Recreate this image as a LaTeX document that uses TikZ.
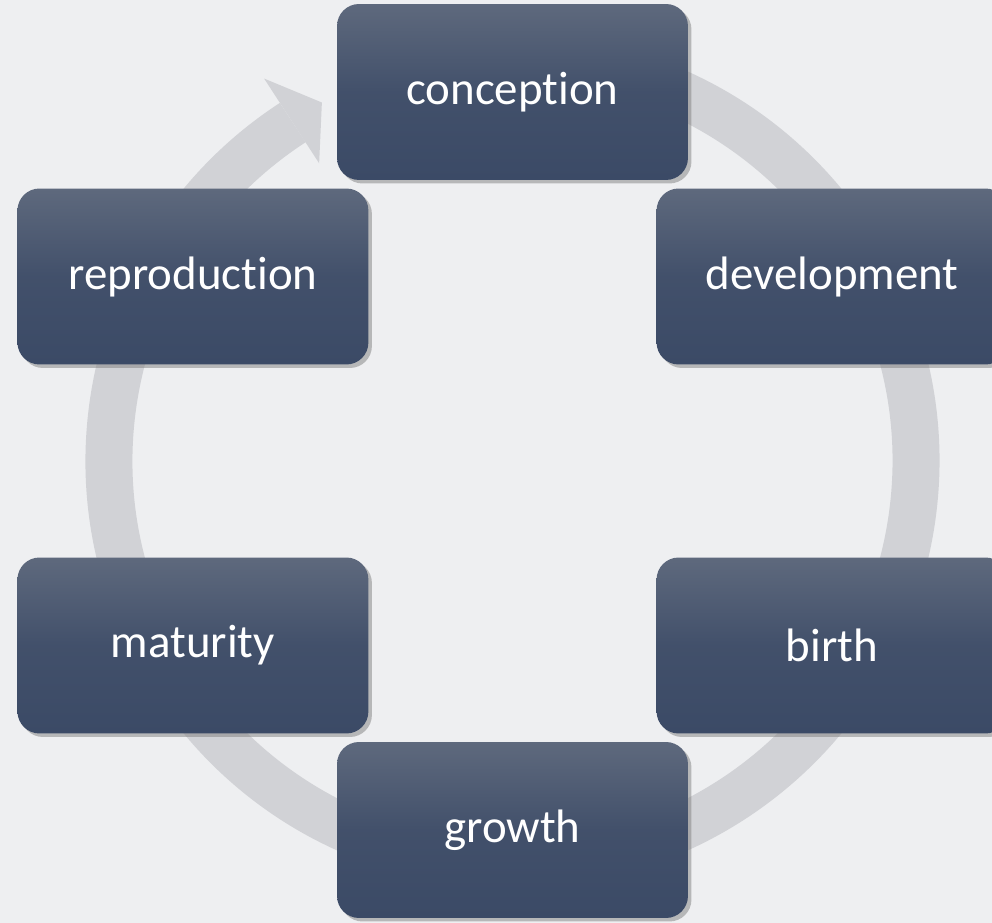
\documentclass[tikz,border=0pt]{standalone}
\usepackage{fontspec}
\setmainfont{Carlito}[Ligatures=NoCommon]
\usetikzlibrary{shadows}
\definecolor{bggray}{HTML}{EEEFF1}
\definecolor{ringgray}{HTML}{D1D2D6}
\definecolor{boxtop}{HTML}{5E697D}
\definecolor{boxbottom}{HTML}{3B4A66}
\begin{document}
\begin{tikzpicture}[x=0.02cm,y=0.02cm]
	\tikzstyle{stage_box} = [rectangle, rounded corners=0.44cm, minimum width=7.02cm, minimum height=3.52cm, inner sep=0pt, top color=boxtop, bottom color=boxbottom, middle color=boxbottom!80!boxtop, text=white, font=\fontsize{26.7}{32}\selectfont, drop shadow={shadow xshift=2pt, shadow yshift=-2pt, opacity=0.5}]
	\tikzstyle{cycle_ring} = [draw=ringgray, line width=0.94cm]

%------------------------------------------------------------
	\useasboundingbox (-512.5,-462) rectangle (479.5,461);
	\clip (-512.5,-462) rectangle (479.5,461);
	\fill[bggray] (-512.5,-462) rectangle (479.5,461);

%------------------------------------------------------------
	\draw[cycle_ring] (80:403.5) arc[start angle=80, end angle=-237, radius=403.5];
	\fill[ringgray] (118:406) -- (123:456) -- (123:355) -- cycle;

%------------------------------------------------------------
	\node[stage_box] (conception) at (90:369) {conception};
	\node[stage_box] (development) at (30:369) {development};
	\node[stage_box] (birth) at (-30:369) {birth};
	\node[stage_box] (growth) at (-90:369) {growth};
	\node[stage_box] (maturity) at (210:369) {maturity};
	\node[stage_box] (reproduction) at (150:369) {reproduction};

\end{tikzpicture}
\end{document}
